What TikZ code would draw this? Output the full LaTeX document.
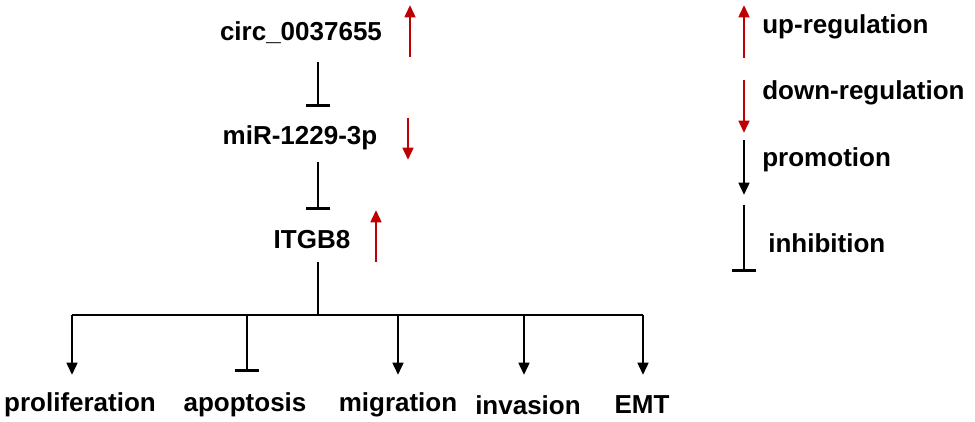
\documentclass[tikz,border=0pt]{standalone}
\usepackage{fontspec}
\setmainfont{Liberation Sans}
\usetikzlibrary{arrows.meta}
\definecolor{upred}{RGB}{192,0,0}
\begin{document}
\begin{tikzpicture}[x=0.02cm,y=-0.02cm,
  lbl/.style={font=\bfseries\fontsize{14.8}{16}\selectfont,inner sep=0},
  prom/.style={line width=1.6pt,-{Triangle[length=7pt,width=6pt]}},
  inh/.style={line width=1.6pt,-{Bar[width=14pt,line width=1.6pt]}},
  regarrow/.style={line width=1.6pt,upred,-{Triangle[length=7pt,width=6pt]}}]
\useasboundingbox (0,0) rectangle (975,422);
\node[lbl] (circ) at (301,33) {circ\_0037655};
\node[lbl] (mir) at (300,138) {miR-1229-3p};
\node[lbl] (itgb) at (312,240) {ITGB8};
\coordinate (c1) at (318,62); \coordinate (c2) at (318,107);
\coordinate (m1) at (318,162); \coordinate (m2) at (318,210);
\draw[inh] (c1) -- (c2);
\draw[inh] (m1) -- (m2);
\coordinate (r1a) at (410,57); \coordinate (r1b) at (410,5);
\coordinate (r2a) at (408,118); \coordinate (r2b) at (408,160);
\coordinate (r3a) at (376,262); \coordinate (r3b) at (376,210);
\draw[regarrow] (r1a) -- (r1b);
\draw[regarrow] (r2a) -- (r2b);
\draw[regarrow] (r3a) -- (r3b);
\coordinate (i1) at (318,262); \coordinate (hub) at (318,315);
\coordinate (hl) at (72,315); \coordinate (hr) at (643,315);
\draw[line width=1.6pt] (i1) -- (hub);
\draw[line width=1.6pt] (hl) -- (hr);
\node[lbl] (p1) at (80,405) {proliferation};
\node[lbl] (p2) at (245,405) {apoptosis};
\node[lbl] (p3) at (398,405) {migration};
\node[lbl] (p4) at (528,405) {invasion};
\node[lbl] (p5) at (642,405) {EMT};
\draw[prom] (72,315) -- (72,375);
\draw[inh] (247,315) -- (247,372);
\draw[prom] (398,315) -- (398,375);
\draw[prom] (524,315) -- (524,375);
\draw[prom] (643,315) -- (643,375);
% legend
\draw[regarrow] (744,58) -- (744,5);
\node[lbl,anchor=west] (l1) at (762,27) {up-regulation};
\draw[regarrow] (744,80) -- (744,133);
\node[lbl,anchor=west] (l2) at (762,93) {down-regulation};
\draw[prom,black] (744,140) -- (744,195);
\node[lbl,anchor=west] (l3) at (762,160) {promotion};
\draw[inh] (744,205) -- (744,272);
\node[lbl,anchor=west] (l4) at (768,243) {inhibition};
\end{tikzpicture}
\end{document}
